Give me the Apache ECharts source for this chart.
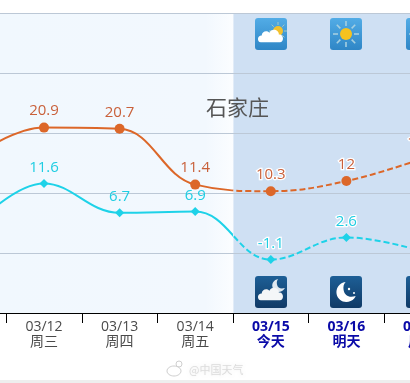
<!DOCTYPE html>
<html><head><meta charset="utf-8">
<style>html,body{margin:0;padding:0;background:#fff}#c{width:410px;height:383px}</style>
<script src="https://cdn.jsdelivr.net/npm/echarts@6/dist/echarts.min.js"></script>
</head><body><div id="c"></div>
<script>
var dates = ['03/11','03/12','03/13','03/14','03/15','03/16','03/17'];
var weekdays = ['周二','周三','周四','周五','今天','明天','后天'];
var highs = [15.5,20.9,20.7,11.4,10.3,12,15.7];
var lows = [3.5,11.6,6.7,6.9,-1.1,2.6,0.3];
var dayIcons = ['','','','','partly','sun','sun'];
var nightIcons = ['','','','','cloudmoon','moon','moon'];
var yTicks = {min:-10,max:40,interval:10};
var cityName = '石家庄';
var forecastFrom = 4;

var W=410, split=233.4, SMOOTH=0.4;
var ORANGE='#dc6729', CYAN='#1ed2e8', ORLABEL='#c9603a', CYLABEL='#1fcde2';
function grad(color,showLeft){
  var o=split/W, a=showLeft?color:'rgba(0,0,0,0)', b=showLeft?'rgba(0,0,0,0)':color;
  return {type:'linear',x:0,y:0,x2:W,y2:0,global:true,colorStops:[
    {offset:0,color:a},{offset:o,color:a},{offset:o,color:b},{offset:1,color:b}]};
}
function labelFn(color){
  return {show:true,position:'top',distance:4,fontSize:15,fontWeight:500,fontFamily:'Open Sans, Noto Sans CJK SC',color:color,
    formatter:function(p){return p.value;}};
}
function haloData(arr,color){
  return arr.map(function(v,i){
    return i>=forecastFrom?{value:v,label:{textBorderColor:'#fff',textBorderWidth:2.5}}:v;
  });
}
var CLOUD='M4 18 C0 18 0 11 5 11 C5 7 10 5 13 8 C15 3 23 4 23 10 C28 9 29 18 24 18 Z';
var MOON='M10 0 C3 1 0 7 1 12 C2 18 9 22 15 19 C18 18 20 15 20 14 C14 16 9 14 8 8 C7.5 5 8 2 10 0 Z';
function rays(cx,cy,r1,r2,color,w){
  var out=[];
  for(var k=0;k<8;k++){var a=k*Math.PI/4;
    out.push({type:'line',shape:{x1:cx+r1*Math.cos(a),y1:cy+r1*Math.sin(a),x2:cx+r2*Math.cos(a),y2:cy+r2*Math.sin(a)},style:{stroke:color,lineWidth:w}});}
  return out;
}
function iconChildren(kind){
  var dark=(kind==='moon'||kind==='cloudmoon');
  var fill={type:'linear',x:0,y:0,x2:0,y2:1,colorStops:dark?
    [{offset:0,color:'#1d5f96'},{offset:1,color:'#103a66'}]:
    [{offset:0,color:'#52ace6'},{offset:1,color:'#2f86c6'}]};
  var c=[{type:'rect',shape:{x:-16,y:-16,width:32,height:32,r:3},style:{fill:fill}}];
  if(kind==='partly'){
    c=c.concat(rays(7,-3,6,9,'#a9c9c0',1));
    c.push({type:'circle',shape:{cx:7,cy:-3,r:5},style:{fill:'#f3c12e'}});
    c.push({type:'path',shape:{pathData:CLOUD,x:-13,y:-7,width:25,height:18},style:{fill:'#fff'}});
  }else if(kind==='sun'){
    c=c.concat(rays(0,0,8,13,'#a5cfe0',1.6));
    c.push({type:'circle',shape:{cx:0,cy:0,r:6},style:{fill:'#f6c21f'}});
  }else if(kind==='cloudmoon'){
    c.push({type:'path',shape:{pathData:MOON,x:1,y:-13,width:13,height:13},style:{fill:'#dfe8f0'}});
    c.push({type:'path',shape:{pathData:CLOUD,x:-13,y:-7,width:25,height:18},style:{fill:'#f4f6f8'}});
  }else if(kind==='moon'){
    c.push({type:'path',shape:{pathData:MOON,x:-10,y:-10,width:20,height:20},style:{fill:'#fff'}});
    c.push({type:'circle',shape:{cx:3,cy:-3,r:1.2},style:{fill:'#fff'}});
    c.push({type:'circle',shape:{cx:8,cy:1,r:1},style:{fill:'#fff'}});
  }
  return c;
}
function iconSeries(list,centerFromTop){
  return {type:'custom',silent:true,z:5,clip:false,data:list.map(function(k,i){return [i,k];}),
    encode:{x:0},
    renderItem:function(params,api){
      var kind=list[params.dataIndex]; if(!kind) return {type:'group',children:[]};
      var p=api.coord([api.value(0),0]);
      return {type:'group',x:Math.round(p[0]),y:params.coordSys.y+centerFromTop,children:iconChildren(kind)};
    }};
}
var chart=echarts.init(document.getElementById('c'),null,{renderer:'canvas'});
var TXT='Open Sans, Noto Sans CJK SC, sans-serif';
chart.setOption({
  animation:false,
  backgroundColor:'#fff',
  title:{text:cityName,left:201,top:92,textStyle:{fontSize:21,fontWeight:'normal',color:'#555',fontFamily:'Noto Sans CJK SC'}},
  grid:{left:-69.4,width:529.2,top:13,height:300,containLabel:false,outerBoundsMode:'none'},
  xAxis:{type:'category',data:dates,boundaryGap:true,
    axisLine:{show:true,onZero:false,lineStyle:{color:'#000',width:1}},
    axisTick:{show:true,length:10,lineStyle:{color:'#000',width:1},alignWithLabel:false},
    splitLine:{show:false},
    axisLabel:{interval:0,margin:7,fontFamily:TXT,lineHeight:14,hideOverlap:false,
      formatter:function(v,i){
        var s=i>=forecastFrom?'t':'n';
        return '{'+s+'|'+v+'}\n{'+s+'2|'+weekdays[i]+'}';
      },
      rich:{n:{fontSize:14,color:'#4a4a4a',fontFamily:TXT,lineHeight:14},
            n2:{fontSize:14,color:'#4a4a4a',fontFamily:'Noto Sans CJK SC',lineHeight:14},
            t:{fontSize:14,fontWeight:'bold',color:'#0a0aa8',fontFamily:TXT,lineHeight:14},
            t2:{fontSize:14,fontWeight:'bold',color:'#0a0aa8',fontFamily:'Noto Sans CJK SC',lineHeight:14}}}},
  yAxis:{type:'value',min:yTicks.min,max:yTicks.max,interval:yTicks.interval,
    axisLine:{show:false},axisTick:{show:false},axisLabel:{show:false},
    splitLine:{show:true,lineStyle:{color:'#bcc8d6',width:1}}},
  graphic:[
    {type:'rect',z:-10,shape:{x:0,y:13,width:233.4,height:300},
      style:{fill:{type:'linear',x:0,y:0,x2:1,y2:0,colorStops:[{offset:0,color:'#f1f8fe'},{offset:.88,color:'#f2f8fe'},{offset:1,color:'#fbfdff'}]}}},
    {type:'rect',z:-10,shape:{x:233.4,y:13,width:177,height:300},style:{fill:'#cfe0f3'}},
    {type:'rect',z:-10,shape:{x:0,y:380,width:410,height:3},style:{fill:'#eeeeee'}},
    {type:'ellipse',z:1,shape:{cx:174,cy:371,rx:7,ry:5},style:{fill:'none',stroke:'#cfcfcf',lineWidth:1}},
    {type:'circle',z:1,shape:{cx:179,cy:364,r:3},style:{fill:'none',stroke:'#cfcfcf',lineWidth:1}},
    {type:'text',z:1,style:{x:189,y:364,text:'@中国天气',fontSize:11,fill:'#dcdcdc',fontFamily:'Noto Sans CJK SC',textShadowColor:'#eee',textShadowBlur:3}}
  ],
  series:[
    {type:'line',smooth:SMOOTH,data:highs,lineStyle:{width:2,color:grad(ORANGE,false),type:[6,3]},symbol:'none',z:3,silent:true},
    {type:'line',smooth:SMOOTH,data:lows,lineStyle:{width:2,color:grad(CYAN,false),type:[6,3]},symbol:'none',z:3,silent:true},
    {type:'line',smooth:SMOOTH,data:haloData(highs),lineStyle:{width:2,color:grad(ORANGE,true)},symbol:'circle',symbolSize:10,
      itemStyle:{color:ORANGE},label:labelFn(ORLABEL),z:4},
    {type:'line',smooth:SMOOTH,data:haloData(lows),lineStyle:{width:2,color:grad(CYAN,true)},symbol:'diamond',symbolSize:9,
      itemStyle:{color:CYAN},label:labelFn(CYLABEL),z:4},
    iconSeries(dayIcons,21),
    iconSeries(nightIcons,279)
  ]
});
</script></body></html>
